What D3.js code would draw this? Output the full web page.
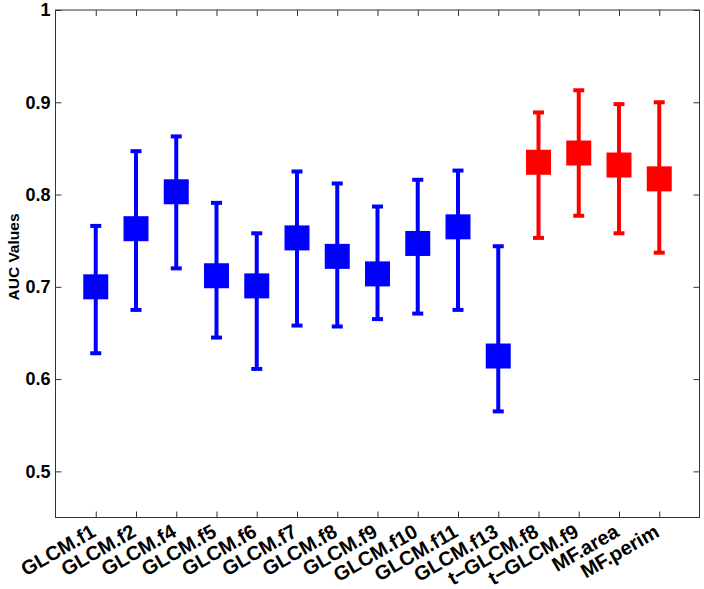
<!DOCTYPE html>
<html><head><meta charset="utf-8">
<script src="https://cdn.jsdelivr.net/npm/d3@7"></script>
<style>body{margin:0;background:#fff}svg{display:block}text{font-family:"Liberation Sans",Arial,sans-serif;font-weight:bold}</style>
</head><body><svg id="c" width="704" height="589"></svg>
<script>
const categories = ["GLCM.f1","GLCM.f2","GLCM.f4","GLCM.f5","GLCM.f6","GLCM.f7","GLCM.f8","GLCM.f9","GLCM.f10","GLCM.f11","GLCM.f13","t\u2212GLCM.f8","t\u2212GLCM.f9","MF.area","MF.perim"];
const meanValues = [0.700,0.763,0.803,0.712,0.701,0.753,0.733,0.714,0.747,0.765,0.625,0.835,0.845,0.832,0.817];
const upperValues = [0.766,0.847,0.863,0.791,0.758,0.825,0.812,0.787,0.816,0.826,0.744,0.889,0.913,0.898,0.900];
const lowerValues = [0.628,0.675,0.720,0.645,0.611,0.658,0.657,0.665,0.671,0.675,0.565,0.753,0.777,0.758,0.737];
const groups = ["blue","blue","blue","blue","blue","blue","blue","blue","blue","blue","blue","red","red","red","red"];
const yTicks = [0.5,0.6,0.7,0.8,0.9,1];

const svg = d3.select("#c");
const L=55.5, R=699.5, T=10, B=517.5;
const x = d3.scaleLinear().domain([0,categories.length+1]).range([L,R]);
const y = d3.scaleLinear().domain([0.45,1]).range([B,T]);
const colour = {blue:"#0000ff", red:"#ff0000"};

const data = categories.map((c,i)=>({c,i:i+1,m:meanValues[i],u:upperValues[i],l:lowerValues[i],g:groups[i]}));

// axes
const idx = d3.range(1,categories.length+1);
const axB = d3.axisBottom(x).tickValues(idx).tickSize(-6).tickFormat(d=>categories[d-1]);
const axT = d3.axisTop(x).tickValues(idx).tickSize(-6).tickFormat("");
const axL = d3.axisLeft(y).tickValues(yTicks).tickSize(-6).tickFormat(d=>d===1?"1":d3.format(".1f")(d));
const axR = d3.axisRight(y).tickValues(yTicks).tickSize(-6).tickFormat("");

function style(g){g.selectAll("path,line").attr("stroke","#333").attr("stroke-width",1);}
const gB = svg.append("g").attr("transform",`translate(0,${B})`).call(axB).call(style);
gB.selectAll("text").attr("font-size",20).attr("fill","#000").attr("text-anchor","end")
  .attr("dy",null).attr("y",0).attr("x",0)
  .attr("transform","translate(1,18) rotate(-30)");
svg.append("g").attr("transform",`translate(0,${T})`).call(axT).call(style);
const gL = svg.append("g").attr("transform",`translate(${L},0)`).call(axL).call(style);
gL.selectAll("text").attr("font-size",18).attr("fill","#000").attr("x",-5);
svg.append("g").attr("transform",`translate(${R},0)`).call(axR).call(style);
svg.selectAll(".domain").attr("d",null);
svg.append("rect").attr("x",L).attr("y",T).attr("width",R-L).attr("height",B-T).attr("fill","none").attr("stroke","#333").attr("stroke-width",1);

// y label
svg.append("text").attr("transform",`translate(19,257) rotate(-90)`).attr("text-anchor","middle")
  .attr("font-size",15.5).text("AUC Values");

// error bars
const g = svg.append("g");
const cap = 11, sq = 25;
data.forEach(d=>{
  const col = colour[d.g];
  g.append("line").attr("x1",x(d.i)).attr("x2",x(d.i)).attr("y1",y(d.u)).attr("y2",y(d.l)).attr("stroke",col).attr("stroke-width",4);
  g.append("line").attr("x1",x(d.i)-cap/2).attr("x2",x(d.i)+cap/2).attr("y1",y(d.u)).attr("y2",y(d.u)).attr("stroke",col).attr("stroke-width",4);
  g.append("line").attr("x1",x(d.i)-cap/2).attr("x2",x(d.i)+cap/2).attr("y1",y(d.l)).attr("y2",y(d.l)).attr("stroke",col).attr("stroke-width",4);
  g.append("rect").attr("x",x(d.i)-sq/2).attr("y",y(d.m)-sq/2).attr("width",sq).attr("height",sq).attr("fill",col);
});
</script></body></html>
